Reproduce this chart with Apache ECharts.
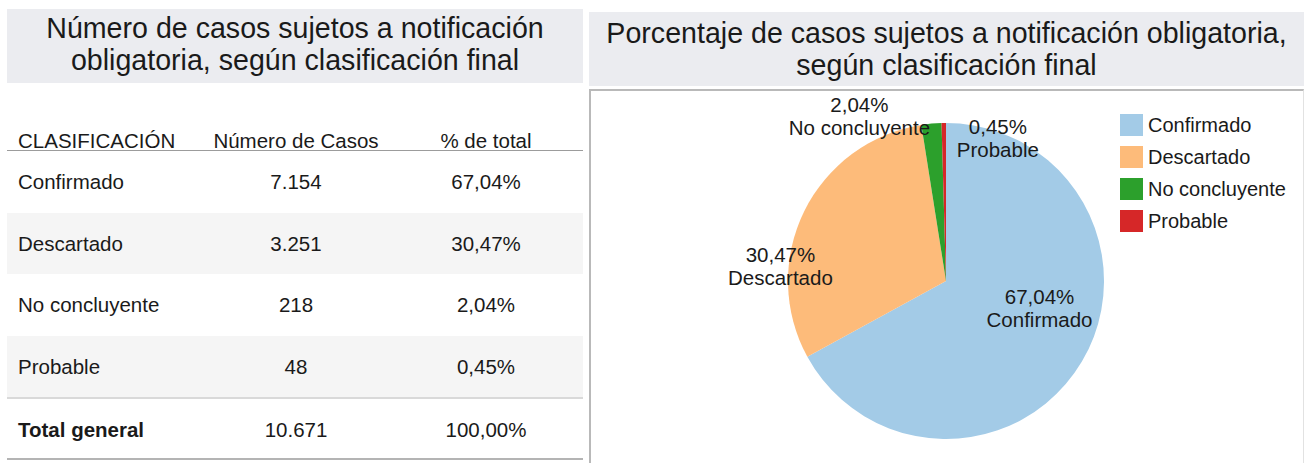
<!DOCTYPE html>
<html lang="es">
<head>
    <meta charset="UTF-8">
    <title>Casos sujetos a notificación obligatoria</title>
    <script src="https://cdn.jsdelivr.net/npm/echarts@6/dist/echarts.min.js"></script>
    <style>
        body { margin: 0; width: 1304px; height: 463px; background: #fff; position: relative; overflow: hidden;
               font-family: "Liberation Sans", Arial, sans-serif; color: #1a1a1a; }
        .titulo { position: absolute; background: #ebecf0; text-align: center; font-size: 28.6px; line-height: 32px;
                  box-sizing: border-box; }
        #tabla { position: absolute; left: 7px; top: 121px; width: 576px; font-size: 20.5px; }
        .fila { display: flex; box-sizing: border-box; }
        .fila div { white-space: nowrap; }
        .c1 { width: 203px; padding-left: 11px; box-sizing: border-box; }
        .c2 { width: 172px; text-align: center; }
        .c3 { width: 201px; padding-left: 7px; box-sizing: border-box; text-align: center; }
        #panelPie { position: absolute; left: 589px; top: 89px; width: 715px; height: 374px; box-sizing: border-box;
                    border-top: 2px solid #b9b9b9; border-left: 2px solid #b9b9b9; border-right: 1px solid #e2e2e2; }
        #pie { width: 712px; height: 372px; }
    </style>
</head>
<body>
<!--tabla-->
<div class="titulo" style="left:7px;top:9px;width:576px;height:74px;padding-top:3px;">
    Número de casos sujetos a notificación<br>obligatoria, según clasificación final
</div>
<div id="tabla"></div>
<!--grafico-->
<div class="titulo" style="left:589px;top:12px;width:715px;height:74px;padding-top:5px;">
    Porcentaje de casos sujetos a notificación obligatoria,<br>según clasificación final
</div>
<div id="panelPie"><div id="pie"></div></div>

<script>
    // datos
    let categorias = ['Confirmado', 'Descartado', 'No concluyente', 'Probable'];
    let casos = [7154, 3251, 218, 48];
    let encabezados = ['CLASIFICACIÓN', 'Número de Casos', '% de total'];
    let etiquetaTotal = 'Total general';

    let colores = ['#a3cbe7', '#fdbb7a', '#2ca02c', '#d62728'];
    // desplazamiento de las etiquetas respecto a la posicion "inside"
    let desplaz = [[23, -15], [-92, 21], [-79, -83], [53, -61]];

    let total = casos.reduce(function (a, b) { return a + b; }, 0);

    function miles(n) {
        return String(n).replace(/\B(?=(\d{3})+(?!\d))/g, '.');
    }
    function pct(v) {
        return (v / total * 100).toFixed(2).replace('.', ',') + '%';
    }

    // tabla
    let html = '<div class="fila" style="height:30px;padding-top:8px;line-height:24px;border-bottom:1.5px solid #9c9c9c;">'
        + '<div class="c1">' + encabezados[0] + '</div><div class="c2">' + encabezados[1] + '</div><div class="c3">' + encabezados[2] + '</div></div>';
    categorias.forEach(function (c, i) {
        let bg = i % 2 === 1 ? '#f5f5f5' : '#fff';
        html += '<div class="fila" style="height:61.5px;line-height:61.5px;background:' + bg + ';">'
            + '<div class="c1">' + c + '</div><div class="c2">' + miles(casos[i]) + '</div><div class="c3">' + pct(casos[i]) + '</div></div>';
    });
    html += '<div class="fila" style="height:63px;line-height:62px;border-top:2px solid #d9d9d9;border-bottom:2px solid #b4b4b4;">'
        + '<div class="c1" style="font-weight:bold;">' + etiquetaTotal + '</div><div class="c2">' + miles(total) + '</div><div class="c3">' + pct(total) + '</div></div>';
    document.getElementById('tabla').innerHTML = html;

    // grafico de torta
    let myChart = echarts.init(document.getElementById('pie'), null, {renderer: 'svg'});
    let option = {
        animation: false,
        color: colores,
        legend: {
            orient: 'vertical',
            left: 524,
            top: 18,
            itemWidth: 23,
            itemHeight: 22,
            itemGap: 10,
            icon: 'rect',
            textStyle: {fontSize: 20, color: '#1a1a1a', fontFamily: 'Liberation Sans'},
            data: categorias
        },
        series: [{
            type: 'pie',
            center: [355, 190],
            radius: 158,
            startAngle: 90,
            clockwise: true,
            itemStyle: {borderWidth: 0},
            label: {
                show: true,
                position: 'inside',
                color: '#1a1a1a',
                fontSize: 20.5,
                fontFamily: 'Liberation Sans',
                lineHeight: 23,
                textBorderWidth: 0,
                formatter: function (p) {
                    return pct(casos[p.dataIndex]) + '\n' + p.name;
                }
            },
            labelLayout: function (p) {
                return {dx: desplaz[p.dataIndex][0], dy: desplaz[p.dataIndex][1]};
            },
            emphasis: {disabled: true},
            data: categorias.map(function (c, i) {
                return {name: c, value: casos[i]};
            })
        }]
    };
    myChart.setOption(option);
</script>
</body>
</html>
